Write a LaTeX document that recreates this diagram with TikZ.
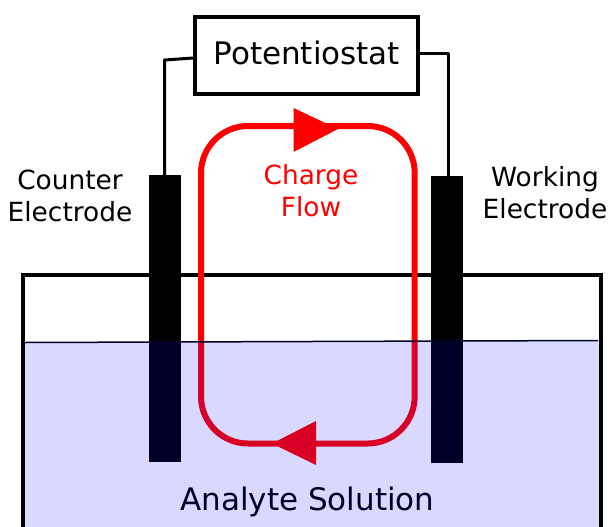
\documentclass[tikz,border=0pt]{standalone}
\usepackage{fontspec}
\setmainfont{DejaVu Sans}
\begin{document}
\begin{tikzpicture}[x=1pt,y=-1pt,
  wire/.style={draw=black,line width=3pt,line join=round},
  electrode/.style={fill=black,draw=none,minimum width=32pt,minimum height=287pt,inner sep=0pt,anchor=north west},
  label/.style={align=center,inner sep=0pt,font=\fontsize{26.4}{32}\selectfont},
  bigtext/.style={inner sep=0pt,font=\fontsize{31}{36}\selectfont},
  flow/.style={draw=red,line width=6pt},
  flowhead/.style={fill=red,draw=none}]
\useasboundingbox (0,0) rectangle (610,527);
\fill[white] (0,0) rectangle (610,527);
% tank
\draw[line width=4pt,line cap=butt,line join=miter] (23,527) -- (23,275) -- (600.5,275) -- (600.5,527);
% charge flow loop
\draw[flow,rounded corners=47pt] (201,126) rectangle (414.7,443.5);
\fill[flowhead] (293.5,108) -- (338,129) -- (293.5,152) -- cycle;
\fill[flowhead] (316,421) -- (272,443.5) -- (316,465) -- cycle;
% electrodes
\node[electrode] (ce) at (148.5,175) {};
\node[electrode] (we) at (431,176) {};
% potentiostat
\node[draw=black,line width=4pt,minimum width=223pt,minimum height=77pt,inner sep=0pt,bigtext] (pot) at (306.8,55.5) {\raisebox{6pt}{Potentiostat}};
\coordinate (cl) at (164.5,60);
\coordinate (cr) at (448,54);
\draw[wire] (pot.west |- 0,58) -- (cl) -- (ce.north -| cl);
\draw[wire] (pot.east |- cr) -- (cr) -- (we.north -| cr);
% labels
\node[label] (cel) at (70,196) {Counter\\Electrode};
\node[label] (wel) at (545,193) {Working\\Electrode};
\node[label,text=red] (cfl) at (311,191) {Charge\\Flow};
\node[bigtext] (as) at (307.5,502) {Analyte Solution};
% solution
\fill[blue,opacity=0.15] (25,342.5) -- (598.5,340.5) -- (598.5,527) -- (25,527) -- cycle;
\draw[line width=1.5pt,draw={rgb,255:red,0;green,0;blue,38}] (25,342.5) -- (598,340.5);
\end{tikzpicture}
\end{document}
